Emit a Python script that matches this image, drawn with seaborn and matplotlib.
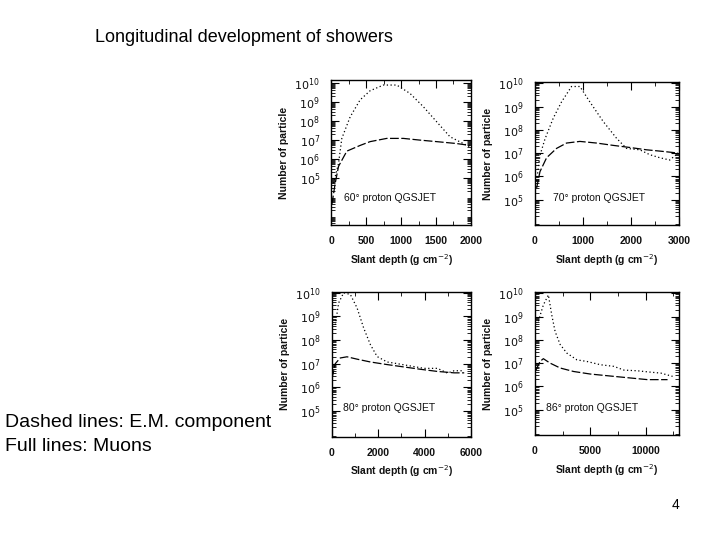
import matplotlib
matplotlib.use("Agg")
import matplotlib.pyplot as plt
import matplotlib.ticker as mticker
import numpy as np
import seaborn as sns

# values: slant depth (g cm^-2) and log10(number of particles)
depth_60_em = [33, 105, 152, 271, 414, 557, 747, 938, 1128, 1319, 1509, 1700, 1890, 2000]
logn_60_em = [4.7, 5.75, 7.07, 8.2, 9.1, 9.58, 9.88, 9.88, 9.44, 8.74, 7.95, 7.16, 6.8, 6.6]
depth_60_mu = [10, 57, 105, 224, 414, 557, 795, 1033, 1271, 1509, 1795, 1985]
logn_60_mu = [3.6, 4.7, 5.6, 6.4, 6.7, 6.9, 7.07, 7.07, 6.98, 6.9, 6.8, 6.7]

depth_70_em = [35, 104, 208, 381, 554, 762, 936, 1143, 1420, 1698, 1906, 2183, 2391, 2599, 2807, 2945]
logn_70_em = [5.8, 6.9, 7.6, 8.5, 9.2, 9.86, 9.86, 9.2, 8.36, 7.64, 7.2, 7.14, 6.93, 6.8, 6.7, 6.93]
depth_70_mu = [35, 104, 243, 450, 658, 936, 1282, 1628, 1975, 2322, 2668, 2980]
logn_70_mu = [5.5, 6.2, 6.8, 7.2, 7.43, 7.5, 7.43, 7.33, 7.24, 7.14, 7.07, 7.0]

depth_80_em = [145, 290, 506, 795, 1085, 1374, 1663, 1952, 2386, 2820, 3398, 3977, 4555, 4989, 5278, 5640]
logn_80_em = [8.64, 9.57, 10.0, 9.93, 9.36, 8.5, 7.8, 7.3, 7.07, 7.0, 6.9, 6.8, 6.8, 6.6, 6.7, 6.7]
depth_80_mu = [0, 145, 361, 651, 1085, 1663, 2386, 3109, 3832, 4555, 5278, 5712]
logn_80_mu = [6.36, 7.0, 7.24, 7.29, 7.19, 7.07, 6.96, 6.86, 6.76, 6.67, 6.61, 6.61]

depth_86_em = [303, 758, 1212, 1515, 1818, 2273, 2879, 3788, 4697, 5909, 7121, 8030, 9242, 10454, 11363, 12424]
logn_86_em = [8.8, 9.5, 9.93, 9.07, 8.36, 7.8, 7.43, 7.14, 7.07, 6.93, 6.86, 6.7, 6.67, 6.61, 6.57, 6.43]
depth_86_mu = [90, 455, 758, 1364, 2273, 3485, 5000, 7121, 8636, 10151, 11969]
logn_86_mu = [6.7, 7.07, 7.19, 7.0, 6.79, 6.64, 6.53, 6.43, 6.36, 6.29, 6.29]

panel_labels = ["60° proton QGSJET", "70° proton QGSJET", "80° proton QGSJET", "86° proton QGSJET"]
xticks_list = [[0, 500, 1000, 1500, 2000], [0, 1000, 2000, 3000], [0, 2000, 4000, 6000], [0, 5000, 10000]]
ytick_exps = [5, 6, 7, 8, 9, 10]

sns.set_theme(style="ticks")
plt.rcParams["font.family"] = ["Liberation Sans", "DejaVu Sans"]
plt.rcParams.update({
    "xtick.direction": "in", "ytick.direction": "in",
    "xtick.top": True, "ytick.right": True,
    "axes.linewidth": 1.0, "axes.edgecolor": "black",
    "text.color": "black",
})

fig = plt.figure(figsize=(7.2, 5.4), dpi=100)

positions = [
    [0.460, 0.583, 0.194, 0.269],
    [0.743, 0.583, 0.200, 0.265],
    [0.461, 0.191, 0.193, 0.269],
    [0.743, 0.194, 0.200, 0.265],
]
xlims = [(0, 2000), (0, 3000), (0, 6000), (0, 13000)]
ylims = [(10 ** 2.5, 10 ** 10.15), (10 ** 3.9, 10 ** 10.05), (10 ** 3.9, 10 ** 10.05), (10 ** 3.9, 10 ** 10.05)]
minor_steps = [250, 500, 1000, 2500]
label_pos = [(0.09, 0.19), (0.125, 0.19), (0.08, 0.2), (0.08, 0.19)]

series = [
    (depth_60_em, logn_60_em, depth_60_mu, logn_60_mu),
    (depth_70_em, logn_70_em, depth_70_mu, logn_70_mu),
    (depth_80_em, logn_80_em, depth_80_mu, logn_80_mu),
    (depth_86_em, logn_86_em, depth_86_mu, logn_86_mu),
]

for i, (dx_em, ly_em, dx_mu, ly_mu) in enumerate(series):
    ax = fig.add_axes(positions[i])
    sns.lineplot(x=dx_em, y=10 ** np.array(ly_em), ax=ax, color="black",
                 linestyle=(0, (1, 2)), linewidth=0.9)
    sns.lineplot(x=dx_mu, y=10 ** np.array(ly_mu), ax=ax, color="black",
                 linestyle=(0, (7, 2)), linewidth=0.9)
    ax.set_yscale("log")
    ax.set_xlim(*xlims[i])
    ax.set_ylim(*ylims[i])

    ax.set_yticks([10.0 ** e for e in ytick_exps])
    ax.set_yticklabels([f"$10^{{{e}}}$" for e in ytick_exps], fontsize=8, color="#111111")
    ax.yaxis.set_minor_locator(mticker.LogLocator(base=10, subs=np.arange(2, 10), numticks=100))
    ax.yaxis.set_minor_formatter(mticker.NullFormatter())
    ax.set_xticks(xticks_list[i])
    ax.set_xticklabels([str(t) for t in xticks_list[i]], fontsize=7.5, color="#111111",
                       fontweight="bold")
    ax.xaxis.set_minor_locator(mticker.MultipleLocator(minor_steps[i]))
    ax.tick_params(which="major", length=6, width=0.8, pad=8, color="black")
    ax.tick_params(which="minor", length=3, width=0.6, color="black")

    ax.set_xlabel("Slant depth (g cm$^{-2}$)", fontsize=7.5, fontweight="bold",
                  color="#111111", labelpad=4)
    ax.set_ylabel("Number of particle", fontsize=7.5, fontweight="bold",
                  color="#111111", labelpad=4)
    ax.text(*label_pos[i], panel_labels[i], transform=ax.transAxes,
            fontsize=7.5, color="#111111", va="center", ha="left")

fig.text(0.132, 0.930, "Longitudinal development of showers", fontsize=13, va="center")
fig.text(0.007, 0.218, "Dashed lines: E.M. component", fontsize=14, va="center")
fig.text(0.007, 0.174, "Full lines: Muons", fontsize=14, va="center")
fig.text(0.933, 0.065, "4", fontsize=10, va="center")

fig.savefig("out.png", dpi=100)
